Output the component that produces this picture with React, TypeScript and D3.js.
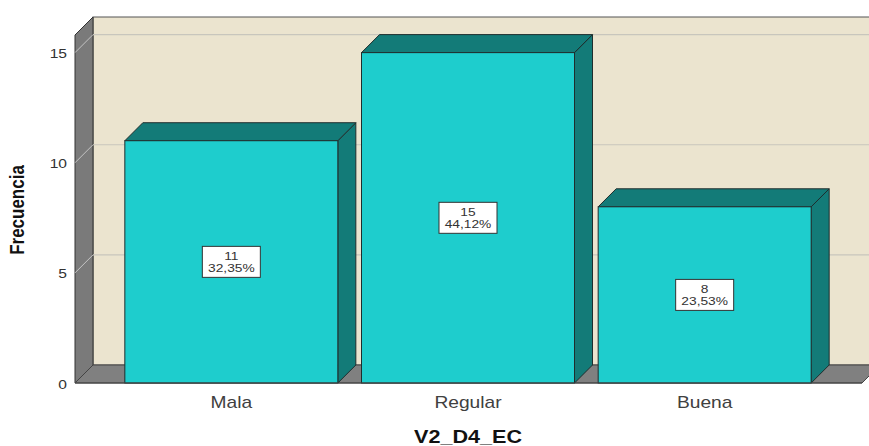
import React from "react";
import { scaleBand, scaleLinear } from "d3";

const categories = ["Mala", "Regular", "Buena"];
const counts = [11, 15, 8];
const percents = ["32,35%", "44,12%", "23,53%"];
const yTicks = [0, 5, 10, 15];

const W = 869, H = 446;
const DX = 18, DY = 18; // depth of the 3d effect
const frontLeft = 75, frontRight = 862;
const baseY = 383;
const SX = 1.2; // the original picture is stretched horizontally

const wallFill = "#ebe4cf";
const sideGray = "#7a7a7a";
const barFront = "#1ecdcd";
const barDark = "#137b78";
const edge = "#1f2d2d";

function Stretched({ x, y, children, sx = SX, ...rest }: any) {
  return (
    <g transform={`translate(${x},${y}) scale(${sx},1)`}>
      <text {...rest}>{children}</text>
    </g>
  );
}

export default function App() {
  const x = scaleBand<string>()
    .domain(categories)
    .range([113, 823])
    .paddingInner(0.1)
    .paddingOuter(0.05);

  const y = scaleLinear().domain([0, 15.8]).range([baseY, 35]);
  const top = y(15.8);
  const bw = x.bandwidth();

  const pts = (p: number[][]) => p.map((d) => d.join(",")).join(" ");

  return (
    <svg width={W} height={H} style={{ position: "absolute", left: 0, top: 0, background: "#fff" }}
      fontFamily="'Liberation Sans', Arial, sans-serif">
      {/* back wall */}
      <rect x={frontLeft + DX} y={top - DY} width={frontRight - frontLeft + 10} height={baseY - top}
        fill={wallFill} stroke="#555" strokeWidth={1} />
      {/* left wall */}
      <polygon points={pts([[frontLeft, top], [frontLeft + DX, top - DY], [frontLeft + DX, baseY - DY], [frontLeft, baseY]])}
        fill={sideGray} stroke="#333" strokeWidth={1} />
      {/* floor */}
      <polygon points={pts([[frontLeft, baseY], [frontLeft + DX, baseY - DY], [frontRight + DX, baseY - DY], [frontRight, baseY]])}
        fill="#808080" stroke="#444" strokeWidth={1} />

      {/* gridlines */}
      {yTicks.filter((t) => t > 0).map((t) => (
        <g key={t}>
          <line x1={frontLeft} y1={y(t)} x2={frontLeft + DX} y2={y(t) - DY} stroke="#c4c4c4" strokeWidth={1} />
          <line x1={frontLeft + DX} y1={y(t) - DY} x2={W + 20} y2={y(t) - DY} stroke="#c8c6bd" strokeWidth={1.2} />
        </g>
      ))}

      {/* tick labels */}
      {yTicks.map((t) => (
        <Stretched key={t} x={67} y={y(t) + 1} textAnchor="end" dominantBaseline="central"
          fontSize={13} fill="#333">{t}</Stretched>
      ))}

      {/* bars */}
      {categories.map((c, i) => {
        const x0 = x(c)!;
        const x1 = x0 + bw;
        const yt = y(counts[i]);
        return (
          <g key={c}>
            <polygon points={pts([[x1, yt], [x1 + DX, yt - DY], [x1 + DX, baseY - DY], [x1, baseY]])}
              fill={barDark} stroke={edge} strokeWidth={1} />
            <polygon points={pts([[x0, yt], [x0 + DX, yt - DY], [x1 + DX, yt - DY], [x1, yt]])}
              fill={barDark} stroke={edge} strokeWidth={1} />
            <rect x={x0} y={yt} width={bw} height={baseY - yt} fill={barFront} stroke={edge} strokeWidth={1} />
          </g>
        );
      })}

      {/* front baseline */}
      <line x1={frontLeft} y1={baseY} x2={frontRight} y2={baseY} stroke="#444" strokeWidth={1.2} />

      {/* value labels */}
      {categories.map((c, i) => {
        const cx = x(c)! + bw / 2;
        const cy = (y(counts[i]) + baseY) / 2;
        return (
          <g key={c}>
            <rect x={cx - 29} y={cy - 15.5} width={58} height={31} fill="#fff" stroke="#333" strokeWidth={1} />
            <Stretched x={cx} y={cy - 2} sx={1.25} textAnchor="middle" fontSize={11} fill="#333">{counts[i]}</Stretched>
            <Stretched x={cx} y={cy + 10.5} sx={1.25} textAnchor="middle" fontSize={11} fill="#333">{percents[i]}</Stretched>
          </g>
        );
      })}

      {/* category labels */}
      {categories.map((c) => (
        <Stretched key={c} x={x(c)! + bw / 2} y={408} textAnchor="middle" fontSize={16} fill="#404040">{c}</Stretched>
      ))}

      {/* axis titles */}
      <Stretched x={468} y={443} textAnchor="middle" fontSize={18} fontWeight="bold" fill="#111">V2_D4_EC</Stretched>
      <g transform="translate(24,210) scale(1.2,1) rotate(-90)">
        <text textAnchor="middle" fontSize={17} fontWeight="bold" fill="#111">Frecuencia</text>
      </g>
    </svg>
  );
}
